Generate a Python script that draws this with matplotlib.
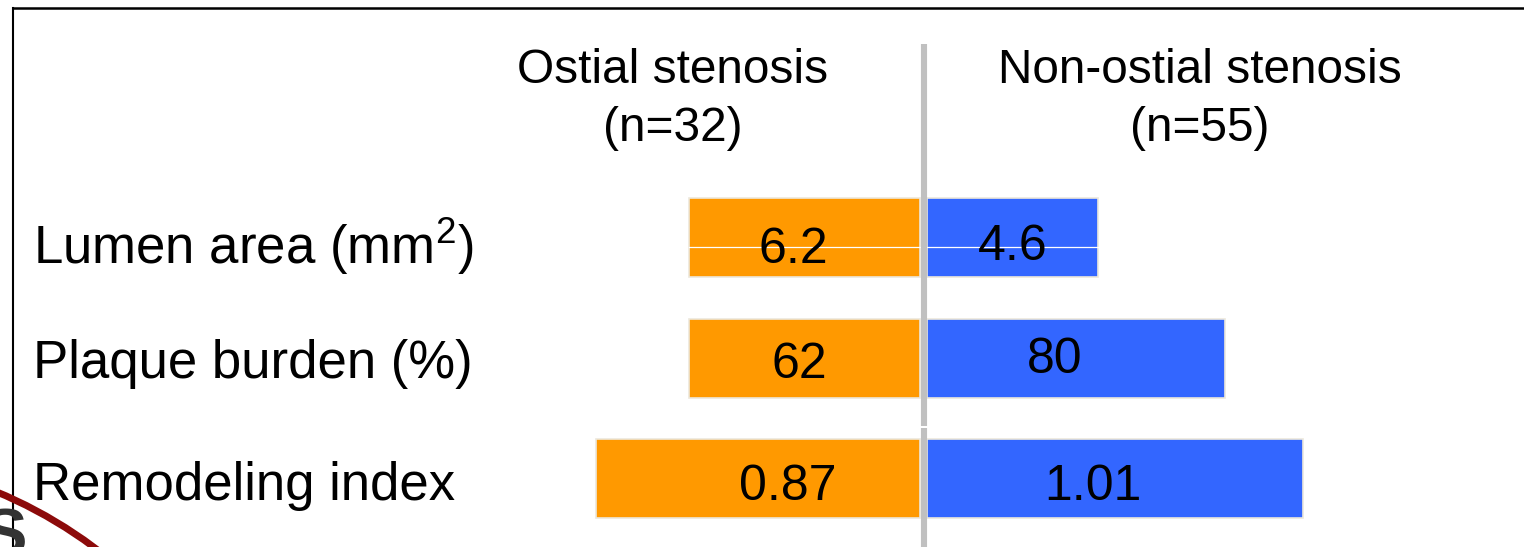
import matplotlib
matplotlib.use("Agg")
import matplotlib.pyplot as plt
from matplotlib.lines import Line2D
from matplotlib.patches import Circle
import numpy as np

plt.rcParams['font.family'] = ['Liberation Sans', 'DejaVu Sans']
plt.rcParams['mathtext.default'] = 'regular'

# ---- data -------------------------------------------------------------
measures = ["Lumen area (mm$^{2}$)", "Plaque burden (%)", "Remodeling index"]
ostial = [6.2, 62, 0.87]
non_ostial = [4.6, 80, 1.01]
value_formats = ["{:.1f}", "{:.0f}", "{:.2f}"]
# each row is drawn on its own scale so the three measures share one axis
row_scale = [10, 1, 100]
group_titles = ["Ostial stenosis\n(n=32)", "Non-ostial stenosis\n(n=55)"]

# ---- layout (pixels of the 1524 x 547 canvas) -------------------------
W, H = 1524, 547
DPI = 100
CX = 923.5          # divider position
K = 3.725           # pixels per scaled unit
ROW0 = 238.0        # centre of first row
PITCH = 120.4       # row spacing
BAR_H = 79 / PITCH
GAP = 3.5 / K

ORANGE = "#FF9900"
BLUE = "#3366FF"
EDGE = "#ECE8DC"
DIVIDER = "#C0C0C0"

# text anchors: x centre (px) and baseline (px) of each value label
ostial_label_px = [(793, 263), (799, 378), (788, 500)]
non_label_px = [(1013, 260), (1055, 373), (1093, 500)]
row_label_base = [264, 378, 500]

fig = plt.figure(figsize=(W / DPI, H / DPI), dpi=DPI)
fig.patch.set_facecolor("white")

# overlay in canvas pixels for the frame and decoration
deco = fig.add_axes([0, 0, 1, 1])
deco.set_xlim(0, W)
deco.set_ylim(H, 0)
deco.axis("off")

ax = fig.add_axes([0, 0, 1, 1])
ax.patch.set_alpha(0)
ax.set_xlim(-CX / K, (W - CX) / K)
ax.set_ylim((H - ROW0) / PITCH, -ROW0 / PITCH)
ax.axis("off")


def px_x(px):
    return (px - CX) / K


def px_y(py):
    return (py - ROW0) / PITCH


rows = np.arange(len(measures))
ost_len = np.array(ostial) * np.array(row_scale)
non_len = np.array(non_ostial) * np.array(row_scale)

ax.barh(rows, -ost_len, left=-GAP, height=BAR_H, color=ORANGE,
        edgecolor=EDGE, linewidth=1.2, zorder=2)
ax.barh(rows, non_len, left=GAP, height=BAR_H, color=BLUE,
        edgecolor=EDGE, linewidth=1.2, zorder=2)

# thin white hairline across the first row
ax.plot([-GAP - ost_len[0], GAP + non_len[0]], [px_y(247.3)] * 2,
        color="white", linewidth=0.9, zorder=3)

# divider between the two groups
ax.plot([0, 0], [px_y(44), px_y(426.5)], color=DIVIDER, linewidth=4.4,
        solid_capstyle="butt", zorder=4)
ax.plot([0, 0], [px_y(428.3), px_y(H + 2)], color=DIVIDER, linewidth=4.4,
        solid_capstyle="butt", zorder=4)

# value labels
for i in rows:
    txt = value_formats[i].format(ostial[i])
    x, b = ostial_label_px[i]
    ax.text(px_x(x), px_y(b), txt, ha="center", va="baseline",
            fontsize=36, color="black", zorder=5)
    txt = value_formats[i].format(non_ostial[i])
    x, b = non_label_px[i]
    ax.text(px_x(x), px_y(b), txt, ha="center", va="baseline",
            fontsize=36, color="black", zorder=5)

# row labels
for i, name in enumerate(measures):
    ax.text(px_x(33), px_y(row_label_base[i]), name, ha="left",
            va="baseline", fontsize=38, color="black", zorder=5)

# group headings
for title, xc in zip(group_titles, [672.5, 1200]):
    l1, l2 = title.split("\n")
    ax.text(px_x(xc), px_y(83), l1, ha="center", va="baseline",
            fontsize=34.4, color="black")
    ax.text(px_x(xc), px_y(141), l2, ha="center", va="baseline",
            fontsize=34.4, color="black")

# frame lines
deco.add_line(Line2D([13, W + 5], [8.3, 8.3], color="black", linewidth=1.8))
deco.add_line(Line2D([13, 13], [8.3, H + 5], color="black", linewidth=1.5))

# emblem in the lower-left corner
deco.add_patch(Circle((-180, 915.5), 459, fill=False, edgecolor="#8C0A0A",
                      linewidth=5, zorder=3))
deco.text(27, 556, "S", ha="right", va="baseline", fontsize=48,
          fontweight="bold", color="#333333", zorder=2)

fig.savefig("out.png", dpi=DPI, facecolor="white")
